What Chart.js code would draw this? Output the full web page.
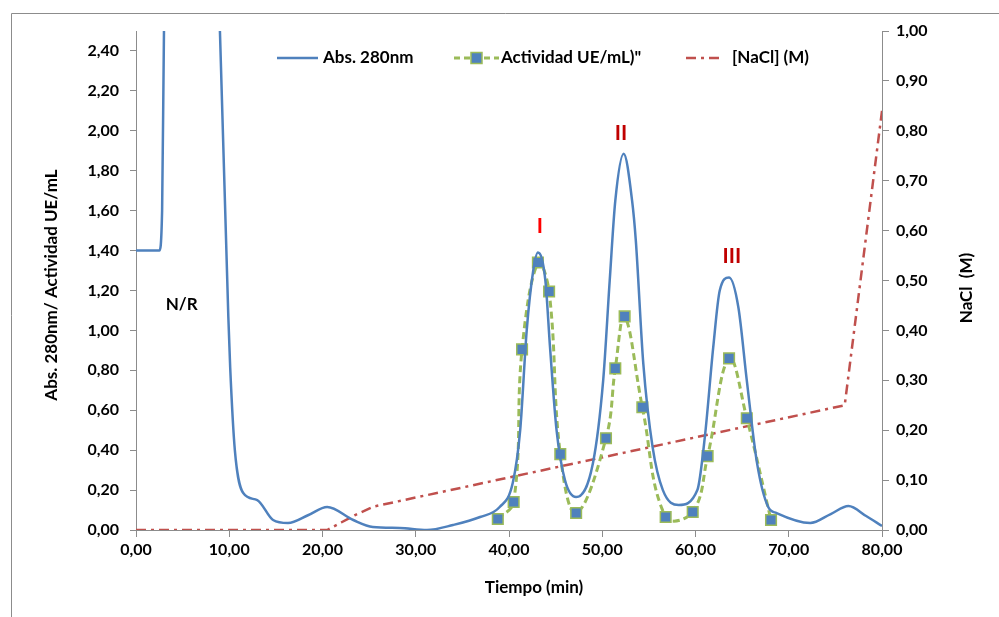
<!DOCTYPE html>
<html>
<head>
<meta charset="utf-8">
<script src="https://cdn.jsdelivr.net/npm/chart.js@4.4.0/dist/chart.umd.min.js"></script>
<style>
  html, body { margin: 0; padding: 0; background: #fff; }
  #wrap { width: 999px; height: 617px; position: relative; }
</style>
</head>
<body>
<div id="wrap"><canvas id="elutionChart" width="999" height="617"></canvas></div>
<script>
// Abs. 280nm trace (min, abs)
const absTime = [0, 2.5, 2.8, 3.0, 3.5, 6, 8.5, 9.0, 9.9, 10.1, 10.6, 11.5, 13.0, 14.7, 16.3, 18.5, 20.5, 23.3, 25.4, 28.3, 31.2, 34, 36.9, 39.0, 40.4, 41.2, 41.9, 42.6, 43.1, 43.9, 44.4, 45.1, 46.0, 47.2, 49.0, 50.1, 50.8, 51.4, 52.3, 53.2, 53.6, 54.4, 55.4, 56.5, 58.2, 60.2, 61.0, 61.9, 62.6, 63.6, 64.6, 65.5, 66.6, 67.8, 68.7, 72.3, 74.5, 76.4, 78.3, 80.0];
const absValues = [1.40, 1.40, 1.60, 2.50, 3.40, 3.80, 3.40, 2.50, 1.07, 0.815, 0.40, 0.185, 0.15, 0.05, 0.035, 0.075, 0.115, 0.05, 0.015, 0.01, 0.0, 0.025, 0.065, 0.115, 0.235, 0.50, 1.00, 1.30, 1.39, 1.25, 0.915, 0.50, 0.25, 0.165, 0.335, 0.75, 1.25, 1.65, 1.885, 1.65, 1.45, 0.835, 0.415, 0.20, 0.125, 0.20, 0.465, 0.915, 1.20, 1.265, 1.115, 0.75, 0.335, 0.115, 0.085, 0.035, 0.08, 0.12, 0.07, 0.02];

// Actividad UE/mL fractions
const actTime = [38.8, 40.5, 41.4, 43.1, 44.3, 45.5, 47.2, 50.4, 51.4, 52.4, 54.3, 56.8, 59.7, 61.3, 63.6, 65.5, 68.1];
const actValues = [0.055, 0.14, 0.905, 1.34, 1.195, 0.38, 0.085, 0.46, 0.81, 1.07, 0.615, 0.065, 0.09, 0.37, 0.86, 0.56, 0.05];

// NaCl gradient (M), right axis
const naclTime = [0, 20.5, 22, 23.5, 25.5, 76, 80];
const naclValues = [0, 0, 0.015, 0.03, 0.047, 0.25, 0.84];

const xTicks = [0, 10, 20, 30, 40, 50, 60, 70, 80];

// peak labels: text, x (min), y (abs)
const peakLabels = [
  { text: "I", x: 43.3, y: 1.52, color: "#FF0000" },
  { text: "II", x: 52.0, y: 1.99, color: "#C00000" },
  { text: "III", x: 63.9, y: 1.37, color: "#C00000" },
  { text: "N/R", x: 4.9, y: 1.13, color: "#000000" }
];

const FONT = "Lato";
const fmt = v => v.toFixed(2).replace(".", ",");
const toXY = (xs, ys) => xs.map((x, i) => ({ x: x, y: ys[i] }));

const BLUE = "#4F81BD", GREEN = "#9BBB59", RED = "#C0504D", AXIS = "#8C8C8C";

const extras = {
  id: "extras",
  afterDraw(chart) {
    const c = chart.ctx;
    const xs = chart.scales.x, ys = chart.scales.y;
    c.save();
    // outer frame
    c.strokeStyle = "#8C8C8C";
    c.lineWidth = 1;
    c.beginPath();
    c.moveTo(11.5, 617);
    c.lineTo(11.5, 13.5);
    c.lineTo(999, 13.5);
    c.stroke();

    // axis titles
    c.fillStyle = "#000";
    c.font = "bold 17px " + FONT;
    c.textAlign = "center";
    c.textBaseline = "middle";
    c.fillText("Tiempo (min)", 534, 588);
    c.save();
    c.translate(52, 285);
    c.rotate(-Math.PI / 2);
    c.fillText("Abs. 280nm/ Actividad UE/mL", 0, 0);
    c.restore();
    c.save();
    c.translate(967, 288);
    c.rotate(-Math.PI / 2);
    c.fillText("NaCl  (M)", 0, 0);
    c.restore();

    // peak labels
    peakLabels.forEach(p => {
      c.fillStyle = p.color;
      c.font = p.text === "N/R" ? "bold 17px " + FONT : "bold 21px " + FONT;
      c.fillText(p.text, xs.getPixelForValue(p.x), ys.getPixelForValue(p.y));
    });

    // legend
    const ly = 58;
    c.font = "bold 17px " + FONT;
    c.textAlign = "left";
    c.fillStyle = "#000";
    c.lineCap = "butt";
    c.strokeStyle = BLUE; c.lineWidth = 2.5; c.setLineDash([]);
    c.beginPath(); c.moveTo(277, ly); c.lineTo(318, ly); c.stroke();
    c.fillText("Abs. 280nm", 323, ly);
    c.strokeStyle = GREEN; c.lineWidth = 3; c.setLineDash([6, 4]);
    c.beginPath(); c.moveTo(454, ly); c.lineTo(499, ly); c.stroke();
    c.setLineDash([]);
    c.fillStyle = BLUE; c.fillRect(471, ly - 5.5, 11, 11);
    c.strokeStyle = GREEN; c.lineWidth = 1.5; c.strokeRect(471, ly - 5.5, 11, 11);
    c.fillStyle = "#000";
    c.fillText("Actividad UE/mL)\"", 501, ly);
    c.strokeStyle = RED; c.lineWidth = 2.5; c.setLineDash([10, 5, 3, 5]);
    c.beginPath(); c.moveTo(686, ly); c.lineTo(722, ly); c.stroke();
    c.setLineDash([]);
    c.fillText("[NaCl] (M)", 732, ly);
    c.restore();
  }
};

new Chart(document.getElementById("elutionChart"), {
  type: "line",
  data: {
    datasets: [
      {
        label: "Abs. 280nm", data: toXY(absTime, absValues), yAxisID: "y",
        borderColor: BLUE, borderWidth: 2.5, pointRadius: 0,
        cubicInterpolationMode: "monotone", fill: false
      },
      {
        label: "Actividad UE/mL)\"", data: toXY(actTime, actValues), yAxisID: "y",
        borderColor: GREEN, borderWidth: 3, borderDash: [7, 4], tension: 0.4,
        pointStyle: "rect", pointRadius: 7.5, pointBackgroundColor: BLUE,
        pointBorderColor: GREEN, pointBorderWidth: 1.5, fill: false
      },
      {
        label: "[NaCl] (M)", data: toXY(naclTime, naclValues), yAxisID: "y2",
        borderColor: RED, borderWidth: 2.5, borderDash: [10, 5, 3, 5], pointRadius: 0,
        tension: 0, fill: false
      }
    ]
  },
  options: {
    responsive: false,
    animation: false,
    layout: { padding: { left: 0, right: 0, top: 31, bottom: 0 } },
    plugins: { legend: { display: false }, tooltip: { enabled: false } },
    scales: {
      x: {
        type: "linear", min: 0, max: 80,
        afterBuildTicks: s => { s.ticks = xTicks.map(v => ({ value: v })); },
        afterFit: s => { s.height = 87; },
        grid: { drawOnChartArea: false, color: AXIS, tickLength: 7 },
        border: { color: AXIS },
        ticks: { callback: v => fmt(v), color: "#000", padding: 3, maxRotation: 0, font: { family: FONT, size: 16, weight: "bold" } }
      },
      y: {
        position: "left", min: 0, max: 2.5,
        afterBuildTicks: s => { s.ticks = s.ticks.filter(t => t.value <= 2.4001); },
        afterFit: s => { s.width = 136; },
        grid: { drawOnChartArea: false, color: AXIS, tickLength: 6 },
        border: { color: AXIS },
        ticks: { stepSize: 0.2, callback: v => fmt(v), color: "#000", padding: 11, font: { family: FONT, size: 16, weight: "bold" } }
      },
      y2: {
        position: "right", min: 0, max: 1,
        afterFit: s => { s.width = 117; },
        grid: { drawOnChartArea: false, color: AXIS, tickLength: 7 },
        border: { color: AXIS },
        ticks: { stepSize: 0.1, callback: v => fmt(v), color: "#000", padding: 7, font: { family: FONT, size: 16, weight: "bold" } }
      }
    }
  },
  plugins: [extras]
});
</script>
</body>
</html>
